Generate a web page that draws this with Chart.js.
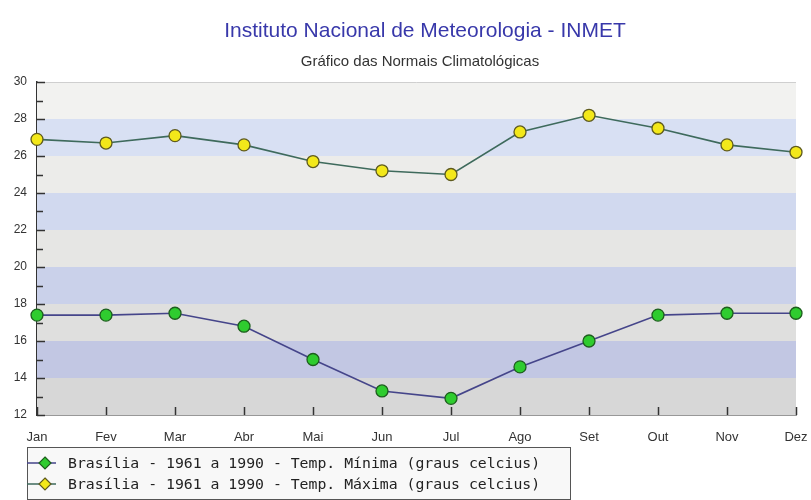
<!DOCTYPE html>
<html>
<head>
<meta charset="utf-8">
<script src="https://cdn.jsdelivr.net/npm/chart.js@4/dist/chart.umd.min.js"></script>
<style>
html,body{margin:0;padding:0;background:#fff;}
#wrap{width:811px;height:500px;position:relative;}
</style>
</head>
<body>
<div id="wrap"><canvas id="c" width="811" height="500"></canvas></div>
<script>
const months = ["Jan","Fev","Mar","Abr","Mai","Jun","Jul","Ago","Set","Out","Nov","Dez"];
const tempMin = [17.4,17.4,17.5,16.8,15.0,13.3,12.9,14.6,16.0,17.4,17.5,17.5];
const tempMax = [26.9,26.7,27.1,26.6,25.7,25.2,25.0,27.3,28.2,27.5,26.6,26.2];
const seriesNames = [
  "Brasília - 1961 a 1990 - Temp. Mínima (graus celcius)",
  "Brasília - 1961 a 1990 - Temp. Máxima (graus celcius)"
];
const titleText = "Instituto Nacional de Meteorologia - INMET";
const subtitleText = "Gráfico das Normais Climatológicas";
const yMin = 12, yMax = 30, yStep = 2;

const grayBands = ["#f2f2f0","#ececea","#e6e6e4","#dfdfde","#d7d7d7"];
const blueBands = ["#d8e0f3","#d1d9ef","#cad1ea","#c2c7e3"];

const bandsPlugin = {
  id:'bands',
  beforeDatasetsDraw(chart){
    const {ctx, chartArea:a, scales:{y,x}} = chart;
    ctx.save();
    let gi=0, bi=0, idx=0;
    for(let v=yMax; v>yMin; v-=yStep, idx++){
      const top = y.getPixelForValue(v), bot = y.getPixelForValue(v-yStep);
      ctx.fillStyle = (idx%2===0) ? grayBands[gi++] : blueBands[bi++];
      ctx.fillRect(a.left, top, a.right-a.left, bot-top);
    }
    ctx.strokeStyle="#cfcfcf"; ctx.lineWidth=1;
    ctx.beginPath(); ctx.moveTo(a.left, a.top+0.5); ctx.lineTo(a.right, a.top+0.5); ctx.stroke();
    ctx.strokeStyle="#333"; ctx.lineWidth=1.5;
    for(let v=yMin; v<=yMax; v+=1){
      const py = Math.round(y.getPixelForValue(v))+0.5;
      const len = (v%2===0) ? 8 : 6;
      ctx.beginPath(); ctx.moveTo(a.left, py); ctx.lineTo(a.left+len, py); ctx.stroke();
    }
    for(let i=0;i<months.length;i++){
      const px = Math.round(x.getPixelForValue(i))+0.5;
      ctx.beginPath(); ctx.moveTo(px, a.bottom); ctx.lineTo(px, a.bottom-8); ctx.stroke();
    }
    ctx.restore();
  }
};

const overlayPlugin = {
  id:'overlay',
  afterDraw(chart){
    const ctx = chart.ctx;
    ctx.save();
    ctx.textAlign='center'; ctx.textBaseline='middle';
    ctx.fillStyle="#3838aa";
    ctx.font="21px 'Liberation Sans', Arial, sans-serif";
    ctx.fillText(titleText, 425, 31);
    ctx.fillStyle="#333";
    ctx.font="15px 'Liberation Sans', Arial, sans-serif";
    ctx.fillText(subtitleText, 420, 62);
    ctx.fillStyle="#f8f8f8";
    ctx.fillRect(27.5, 447.5, 543, 52);
    ctx.strokeStyle="#555"; ctx.lineWidth=1;
    ctx.strokeRect(27.5, 447.5, 543, 52);
    const ds = chart.data.datasets;
    const rows=[463,484];
    ctx.textAlign='left';
    ctx.font="14.8px 'DejaVu Sans Mono', monospace";
    ds.forEach((d,i)=>{
      const cy=rows[i];
      const mx=45;
      ctx.strokeStyle=d.borderColor; ctx.lineWidth=1.5;
      ctx.beginPath(); ctx.moveTo(27,cy); ctx.lineTo(56,cy); ctx.stroke();
      ctx.beginPath();
      ctx.moveTo(mx,cy-6); ctx.lineTo(mx+6,cy); ctx.lineTo(mx,cy+6); ctx.lineTo(mx-6,cy); ctx.closePath();
      ctx.fillStyle=d.pointBackgroundColor; ctx.fill();
      ctx.strokeStyle=d.pointBorderColor; ctx.lineWidth=1.2; ctx.stroke();
      ctx.fillStyle="#222";
      ctx.fillText(d.label, 68, cy+1);
    });
    ctx.restore();
  }
};

new Chart(document.getElementById('c'), {
  type:'line',
  data:{
    labels: months,
    datasets:[
      {label:seriesNames[0], data:tempMin, borderColor:"#45458a", borderWidth:1.6,
       pointBackgroundColor:"#2fcc2f", pointBorderColor:"#1d5e1d", pointBorderWidth:1.3,
       pointRadius:6, tension:0, clip:false},
      {label:seriesNames[1], data:tempMax, borderColor:"#3e6a5c", borderWidth:1.6,
       pointBackgroundColor:"#f3e81a", pointBorderColor:"#5e5a1e", pointBorderWidth:1.3,
       pointRadius:6, tension:0, clip:false}
    ]
  },
  options:{
    responsive:false, animation:false,
    layout:{padding:{left:0,right:15,top:82,bottom:55}},
    plugins:{legend:{display:false}, title:{display:false}, tooltip:{enabled:false}},
    scales:{
      x:{offset:false,
         grid:{display:false, drawTicks:false},
         border:{display:true,color:"#333",width:1.5},
         ticks:{padding:15,color:"#333",font:{family:"'Liberation Sans', Arial, sans-serif",size:13},maxRotation:0,autoSkip:false},
         afterFit(s){ s.height=30; s.paddingLeft=0; s.paddingRight=0; }},
      y:{min:yMin,max:yMax,
         grid:{display:false, drawTicks:false},
         border:{display:true,color:"#333",width:1.5},
         ticks:{stepSize:yStep,padding:10,color:"#333",font:{family:"'Liberation Sans', Arial, sans-serif",size:12}},
         afterFit(s){ s.width=37; s.paddingTop=0; s.paddingBottom=0; }}
    }
  },
  plugins:[bandsPlugin, overlayPlugin]
});
</script>
</body>
</html>
